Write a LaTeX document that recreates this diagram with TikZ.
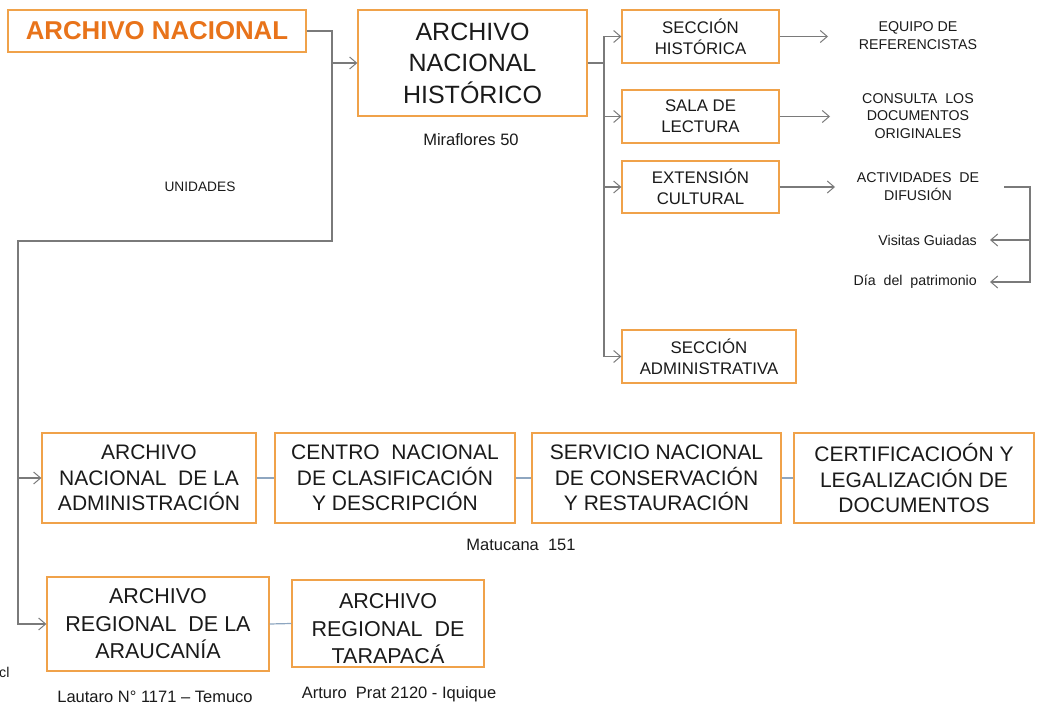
\documentclass[tikz,border=0pt]{standalone}
\usepackage{fontspec}
\setmainfont{Liberation Sans}
\usetikzlibrary{arrows.meta}
\definecolor{obord}{HTML}{F0A24A}
\definecolor{otext}{HTML}{E8731A}
\definecolor{conng}{HTML}{7A7A7A}
\definecolor{blnk}{HTML}{8EA6C0}
\definecolor{txt}{HTML}{1A1A1A}
\tikzset{
  box/.style={draw=obord, line width=1.3pt, fill=white, inner sep=0pt, align=center, text=txt},
  conn/.style={draw=conng, line width=1.2pt},
  arr/.style={conn, -{Straight Barb[length=7pt,width=12pt,line width=1pt]}},
  blink/.style={draw=blnk, line width=1.2pt},
  lbl/.style={inner sep=0pt, align=center, text=txt},
  bigf/.style={font=\fontsize{25}{31.5}\selectfont},
  midf/.style={font=\fontsize{16.8}{21}\selectfont},
  botf/.style={font=\fontsize{21}{25.5}\selectfont},
  regf/.style={font=\fontsize{21.5}{27.5}\selectfont},
  smallf/.style={font=\fontsize{14.2}{17.5}\selectfont},
  addrf/.style={font=\fontsize{16.5}{20}\selectfont}
}
\begin{document}
\begin{tikzpicture}[x=1pt,y=-1pt]
\useasboundingbox (0,0) rectangle (1037,708);
% boxes
\node[box, minimum width=298pt, minimum height=42pt, text=otext, font=\fontsize{25.8}{28}\selectfont\bfseries] (an) at (157,31) {ARCHIVO NACIONAL};
\node[box, bigf, minimum width=229pt, minimum height=106pt] (anh) at (472.5,63) {ARCHIVO\\NACIONAL\\HISTÓRICO};
\node[box, midf, minimum width=157pt, minimum height=53pt] (sh) at (700.5,36.5) {SECCIÓN\\HISTÓRICA};
\node[box, midf, minimum width=157pt, minimum height=53pt] (sl) at (700.5,116.5) {SALA DE\\LECTURA};
\node[box, midf, minimum width=157pt, minimum height=52pt] (ec) at (700.5,187) {EXTENSIÓN\\CULTURAL};
\node[box, midf, minimum width=174pt, minimum height=53pt] (sa) at (709,356.5) {SECCIÓN\\ADMINISTRATIVA};
\node[box, botf, minimum width=214pt, minimum height=90pt] (ana) at (149,478) {ARCHIVO\\NACIONAL\ \ DE LA\\ADMINISTRACIÓN};
\node[box, botf, minimum width=240pt, minimum height=90pt] (cn) at (395,478) {CENTRO\ \ NACIONAL\\DE CLASIFICACIÓN\\Y DESCRIPCIÓN};
\node[box, botf, minimum width=249pt, minimum height=90pt] (sn) at (656.5,478) {SERVICIO NACIONAL\\DE CONSERVACIÓN\\Y RESTAURACIÓN};
\node[box, botf, minimum width=240pt, minimum height=90pt] (cl) at (914,478) {CERTIFICACIOÓN Y\\LEGALIZACIÓN DE\\DOCUMENTOS};
\node[box, regf, minimum width=222pt, minimum height=94pt] (ar) at (158,624) {ARCHIVO\\REGIONAL\ \ DE LA\\ARAUCANÍA};
\node[box, minimum width=192pt, minimum height=87pt] (at) at (388,623.5) {};
\node[lbl, regf] (att) at (388,629) {ARCHIVO\\REGIONAL\ \ DE\\TARAPACÁ};
% labels
\node[lbl, font=\fontsize{13.7}{17}\selectfont] (un) at (200,187) {UNIDADES};
\node[lbl, addrf] (mf) at (471,140) {Miraflores 50};
\node[lbl, addrf] (mt) at (521,545) {Matucana\ \ 151};
\node[lbl, addrf] (lt) at (155,697) {Lautaro N° 1171 – Temuco};
\node[lbl, addrf] (ap) at (399,694) {Arturo\ \ Prat 2120 - Iquique};
\node[lbl, smallf, anchor=west] (cx) at (-1,672) {cl};
\node[lbl, font=\fontsize{14.2}{18}\selectfont] (eq) at (918,36) {EQUIPO DE\\REFERENCISTAS};
\node[lbl, font=\fontsize{14.2}{17.5}\selectfont] (co) at (918,116) {CONSULTA\ \ LOS\\DOCUMENTOS\\ORIGINALES};
\node[lbl, font=\fontsize{14.2}{18}\selectfont] (ac) at (918,187) {ACTIVIDADES\ \ DE\\DIFUSIÓN};
\node[lbl, smallf, anchor=east] (vg) at (977,240) {Visitas Guiadas};
\node[lbl, smallf, anchor=east] (dp) at (977,282) {Día\ \ del\ \ patrimonio};
% coordinates
\coordinate (j1) at (332,63);
\coordinate (j2) at (332,241);
\coordinate (j3) at (18,241);
\coordinate (j4) at (18,478);
\coordinate (k) at (604,63);
\coordinate (t1) at (828,36.5);
\coordinate (t2) at (830,116.5);
\coordinate (t3) at (835,187);
\coordinate (b0) at (1004,187);
\coordinate (b1) at (1030,187);
\coordinate (vt) at (990,240);
\coordinate (dt) at (990,282);
% connectors
\draw[arr] (an.east) -| (j2) -- (j3) |- (ar.west);
\draw[arr] (j1) -- (anh.west);
\draw[arr] (j4) -- (ana.west);
\draw[conn] (anh.east) -- (k);
\draw[arr] (k) |- (sh.west);
\draw[arr] (k) |- (sl.west);
\draw[arr] (k) |- (ec.west);
\draw[arr] (k) |- (sa.west);
\draw[arr] (sh.east) -- (t1);
\draw[arr] (sl.east) -- (t2);
\draw[arr] (ec.east) -- (t3);
\draw[arr] (b0) -- (b1) |- (dt);
\draw[arr] (b1) |- (vt);
\draw[blink] (ana.east) -- (cn.west);
\draw[blink] (cn.east) -- (sn.west);
\draw[blink] (sn.east) -- (cl.west);
\draw[blink] (ar.east) -- (at.west);
\end{tikzpicture}
\end{document}
